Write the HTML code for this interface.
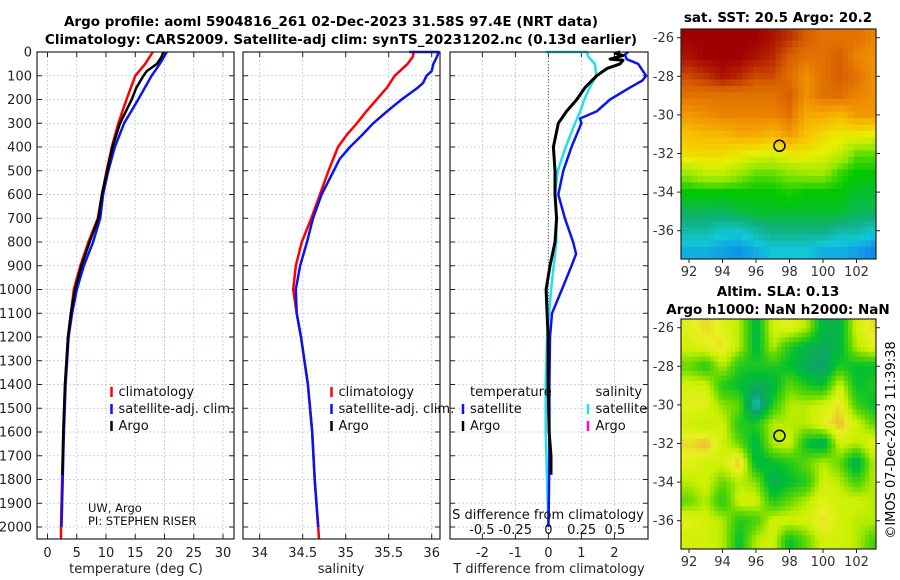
<!DOCTYPE html>
<html><head><meta charset="utf-8"><style>
html,body{margin:0;padding:0;background:#fff;}
svg{display:block;font-family:"DejaVu Sans","Liberation Sans",sans-serif;}
</style></head><body>
<svg id="fig" width="900" height="580" viewBox="0 0 900 580" xmlns="http://www.w3.org/2000/svg">
<g font-weight="bold" font-size="13.5" text-anchor="middle">
<text x="331" y="26">Argo profile: aoml 5904816_261 02-Dec-2023 31.58S 97.4E (NRT data)</text>
<text x="341" y="44">Climatology: CARS2009. Satellite-adj clim: synTS_20231202.nc (0.13d earlier)</text>
</g>
<text x="778" y="22" font-weight="bold" font-size="13.5" text-anchor="middle">sat. SST: 20.5 Argo: 20.2</text>
<text x="778" y="296" font-weight="bold" font-size="13.5" text-anchor="middle">Altim. SLA: 0.13</text>
<text x="778" y="314" font-weight="bold" font-size="13.5" text-anchor="middle">Argo h1000: NaN h2000: NaN</text>
<text transform="translate(895,440) rotate(-90)" font-size="13" text-anchor="middle">©IMOS 07-Dec-2023 11:39:38</text>
</svg>
<script>
// ---------- data ----------
const tempClimDepth=[0,50,100,200,300,400,500,600,700,800,900,1000,1100,1200,1400,1600,1800,2000,2050];
const tempClim=[18.0,16.7,15.0,13.5,12.1,11.0,10.1,9.3,8.6,7.0,5.6,4.5,4.0,3.5,3.0,2.7,2.5,2.3,2.3];
const tempSatDepth=[0,50,100,200,300,400,500,600,700,800,900,1000,1100,1200,1400,1600,1800,2000];
const tempSat=[20.4,19.2,17.8,15.5,13.1,11.5,10.4,9.5,9.0,7.8,6.2,5.0,4.2,3.6,3.1,2.8,2.6,2.4];
const tempArgoDepth=[0,20,50,80,100,150,200,300,400,500,600,700,800,900,1000,1100,1200,1400,1600,1780];
const tempArgo=[19.8,19.5,18.7,17.0,16.4,15.2,14.4,12.4,11.1,10.2,9.3,8.7,7.2,5.8,4.7,4.0,3.5,3.0,2.7,2.55];
const salClimDepth=[0,20,50,100,150,200,250,300,350,400,500,600,700,800,900,1000,1100,1200,1400,1600,1800,2000,2050];
const salClim=[35.79,35.78,35.72,35.57,35.48,35.36,35.24,35.13,35.01,34.91,34.80,34.70,34.60,34.49,34.42,34.39,34.43,34.48,34.56,34.61,34.64,34.68,34.69];
const salSatDepth=[0,0,20,50,80,100,130,150,200,250,300,350,400,450,500,600,700,800,900,1000,1100,1200,1400,1600,1800,2000];
const salSat=[35.74,36.08,36.06,36.02,36.0,35.94,35.9,35.84,35.65,35.48,35.32,35.19,35.05,34.93,34.86,34.72,34.62,34.55,34.47,34.42,34.43,34.48,34.56,34.61,34.64,34.68];
const dSalSatDepth=[0,0,20,50,100,150,200,250,300,400,500,600,700,800,900,1000,1100,1200,1400,1600,1800,2000];
const dSalSat=[-0.02,0.29,0.30,0.35,0.36,0.31,0.27,0.24,0.20,0.13,0.07,0.05,0.06,0.06,0.04,0.02,0.005,-0.01,-0.02,-0.02,-0.01,0];
const dTempSatDepth=[0,10,30,50,100,120,150,200,250,280,300,400,500,600,700,800,850,900,1000,1100,1200,1400,1600,1800,2000];
const dTempSat=[2.42,2.32,2.37,2.72,2.96,2.85,2.47,1.87,1.46,0.96,1.0,0.7,0.45,0.3,0.5,0.75,0.84,0.7,0.41,0.11,0.05,0.03,0.03,0.02,0.0];
const dTempArgoDepth=[0,5,15,30,35,50,70,100,150,200,250,300,400,500,600,700,800,900,1000,1100,1200,1400,1600,1700,1780];
const dTempArgo=[2.17,2.02,2.26,1.87,2.26,2.17,1.77,1.46,1.11,0.86,0.55,0.3,0.15,0.2,0.2,0.25,0.2,0.05,-0.07,-0.04,-0.01,-0.01,0.02,0.08,0.08];
const tempTicks=[0,5,10,15,20,25,30];
const salTicks=[34,34.5,35,35.5,36];
const dTempTicks=[-2,-1,0,1,2];
const dSalTickLabels=["-0.5","-0.25","0","0.25","0.5"];
const dSalTicks=[-0.5,-0.25,0,0.25,0.5];
const lonTicks=[92,94,96,98,100,102];
const latTicks=[-26,-28,-30,-32,-34,-36];
const gridLons=[92,93,94,95,96,97,98,99,100,101,102,103];
const gridLats=[-26,-27,-28,-29,-30,-31,-32,-33,-34,-35,-36,-37];
const sstGrid=[
[.97,.97,.97,.97,.97,.95,.92,.88,.85,.85,.85,.82],
[.95,.97,.97,.97,.95,.93,.88,.85,.85,.88,.82,.80],
[.90,.92,.95,.93,.90,.90,.86,.80,.85,.88,.85,.80],
[.85,.85,.85,.85,.85,.85,.88,.80,.85,.86,.82,.80],
[.78,.80,.82,.82,.82,.82,.85,.75,.75,.72,.78,.78],
[.70,.72,.72,.75,.75,.72,.78,.70,.65,.62,.62,.60],
[.65,.65,.65,.62,.60,.58,.62,.62,.60,.55,.45,.45],
[.50,.55,.55,.50,.45,.45,.48,.50,.50,.42,.38,.38],
[.38,.38,.38,.38,.38,.38,.40,.38,.38,.38,.36,.36],
[.34,.34,.34,.35,.36,.36,.36,.36,.36,.36,.34,.34],
[.30,.30,.28,.28,.30,.32,.32,.32,.32,.30,.30,.28],
[.25,.25,.24,.23,.25,.27,.27,.27,.25,.25,.24,.22]];
const slaGrid=[
[.80,.85,.80,.70,.40,.75,.80,.70,.40,.40,.75,.85],
[.75,.80,.85,.70,.40,.70,.50,.40,.35,.40,.70,.80],
[.60,.50,.70,.50,.50,.50,.45,.35,.30,.50,.45,.45],
[.75,.75,.50,.45,.35,.40,.60,.50,.45,.75,.45,.50],
[.80,.80,.65,.60,.15,.50,.70,.70,.75,.85,.55,.45],
[.75,.70,.75,.50,.50,.70,.70,.70,.80,.90,.75,.60],
[.85,.90,.75,.60,.40,.70,.75,.45,.35,.75,.70,.80],
[.80,.75,.75,.90,.40,.45,.50,.60,.70,.60,.35,.70],
[.70,.75,.60,.70,.65,.35,.45,.50,.75,.70,.55,.70],
[.60,.70,.50,.75,.75,.50,.60,.70,.80,.75,.75,.70],
[.80,.75,.70,.50,.55,.75,.75,.75,.85,.75,.70,.70],
[.75,.75,.70,.45,.70,.75,.45,.60,.75,.75,.70,.55]];
const argoLon=97.4, argoLat=-31.6;

// ---------- helpers ----------
const NS="http://www.w3.org/2000/svg";
const svg=document.getElementById('fig');
function mk(tag,attrs,parent){const e=document.createElementNS(NS,tag);for(const k in attrs)e.setAttribute(k,attrs[k]);(parent||svg).appendChild(e);return e;}
function txt(s,x,y,attrs,parent){const t=mk('text',Object.assign({x:x,y:y,'font-size':13},attrs||{}),parent);t.textContent=s;return t;}
const yD=d=>52+d*0.2375;
const PT=52, PB=539;
const panels=[
 {name:'temperature-panel',x0:37,x1:234},
 {name:'salinity-panel',x0:243,x1:440},
 {name:'difference-panel',x0:450,x1:648}];
const xT=v=>47.5+v*5.85, xS=v=>259.7+(v-34)*86, xdT=v=>548.4+v*33, xdS=v=>548.4+v*133;

function line(depths,vals,xf,color,w,name,parent){
  let d='';depths.forEach((dp,i)=>{d+=(i?'L':'M')+xf(vals[i]).toFixed(1)+','+yD(dp).toFixed(1);});
  const p=mk('path',{d:d,fill:'none',stroke:color,'stroke-width':w,'stroke-linejoin':'round'},parent);
  
  
  return p;
}

panels.forEach((p,pi)=>{
  const g=mk('g',{});
  
  
  const xf=[xT,xS,xdT][pi], ticks=[tempTicks,salTicks,dTempTicks][pi];
  for(let d=0;d<=2000;d+=100){
    mk('line',{x1:p.x0,x2:p.x1,y1:yD(d),y2:yD(d),stroke:'#b8c4ee','stroke-width':0.8,'stroke-dasharray':'2,2'},g);
    mk('line',{x1:p.x0,x2:p.x0+5,y1:yD(d),y2:yD(d),stroke:'#222','stroke-width':1},g);
    mk('line',{x1:p.x1-5,x2:p.x1,y1:yD(d),y2:yD(d),stroke:'#222','stroke-width':1},g);
    if(pi===0){const t=txt(String(d),32,yD(d)+4.5,{'text-anchor':'end',fill:'#222'});}
  }
  ticks.forEach(v=>{
    const x=xf(v);
    mk('line',{x1:x,x2:x,y1:PT,y2:PB,stroke:'#b8c4ee','stroke-width':0.8,'stroke-dasharray':'2,2'},g);
    mk('line',{x1:x,x2:x,y1:PB-5,y2:PB,stroke:'#222','stroke-width':1},g);
    mk('line',{x1:x,x2:x,y1:PT,y2:PT+5,stroke:'#222','stroke-width':1},g);
    const t=txt(String(v),x,557,{'text-anchor':'middle',fill:'#222'},g);
    
    
  });
});
const zl=mk('line',{x1:xdT(0),x2:xdT(0),y1:PT,y2:PB,stroke:'#556b2f','stroke-width':1,'stroke-dasharray':'1,2'});



line(tempClimDepth,tempClim,xT,'#ff0000',2.5,'temperature-climatology-line');
line(tempSatDepth,tempSat,xT,'#0a14ee',2.5,'temperature-satellite-line');
line(tempArgoDepth,tempArgo,xT,'#000',2.5,'temperature-argo-line');
line(salClimDepth,salClim,xS,'#ff0000',2.5,'salinity-climatology-line');
line(salSatDepth,salSat,xS,'#0a14ee',2.5,'salinity-satellite-line');
line(dSalSatDepth,dSalSat,xdS,'#20e0e8',2.5,'salinity-diff-satellite-line');
line(dTempSatDepth,dTempSat,xdT,'#0a14ee',2.5,'temperature-diff-satellite-line');
line(dTempArgoDepth,dTempArgo,xdT,'#000',3,'temperature-diff-argo-line');

panels.forEach(p=>{const r=mk('rect',{x:p.x0,y:PT,width:p.x1-p.x0,height:PB-PT,fill:'none',stroke:'#222','stroke-width':1.2});});

[['temperature (deg C)',136],['salinity',341],['T difference from climatology',549]].forEach(a=>{const t=txt(a[0],a[1],573,{'text-anchor':'middle',fill:'#222'});});
let t=txt('S difference from climatology',548,519,{'text-anchor':'middle',fill:'#111'});


dSalTicks.forEach((v,i)=>{const e=txt(dSalTickLabels[i],xdS(v),534,{'text-anchor':'middle',fill:'#111'});});

function legItem(mx,tx,y,color,label){
  const g=mk('g',{});
  
  
  if(color) mk('line',{x1:mx,x2:mx,y1:y-9,y2:y+1,stroke:color,'stroke-width':2.5},g);
  txt(label,tx,y,{fill:'#111'},g);
}
[[111.5,118.5],[331.5,338.5]].forEach(p=>{
  legItem(p[0],p[1],396,'#ff0000','climatology');
  legItem(p[0],p[1],413,'#0a14ee','satellite-adj. clim.');
  legItem(p[0],p[1],430,'#000','Argo');
});
legItem(0,470,396,null,'temperature');
legItem(463,470,413,'#0a14ee','satellite');
legItem(463,470,430,'#000','Argo');
legItem(0,595.5,396,null,'salinity');
legItem(588,595.5,413,'#20e0e8','satellite');
legItem(588,595.5,430,'#ff00ff','Argo');
t=txt('UW, Argo',88,512,{'font-size':11.5,fill:'#111'});
t=txt('PI: STEPHEN RISER',88,525,{'font-size':11.5,fill:'#111'});

// ---------- maps ----------
function cmap(stops,v){
  if(v<=stops[0][0])return stops[0][1];
  for(let i=1;i<stops.length;i++){if(v<=stops[i][0]){const a=stops[i-1],b=stops[i],f=(v-a[0])/(b[0]-a[0]);
    const ca=a[1].match(/\w\w/g).map(h=>parseInt(h,16)),cb=b[1].match(/\w\w/g).map(h=>parseInt(h,16));
    return 'rgb('+ca.map((c,j)=>Math.round(c+(cb[j]-c)*f)).join(',')+')';}}
  return stops[stops.length-1][1];
}
const sstStops=[[0.2,'#1070f0'],[0.27,'#10c8d8'],[0.32,'#10b080'],[0.38,'#00c800'],[0.48,'#90e800'],[0.6,'#e8f000'],[0.7,'#f8c000'],[0.8,'#f09000'],[0.88,'#d86000'],[0.93,'#b82800'],[0.97,'#a00000']];
const slaStops=[[0.1,'#10d8d0'],[0.3,'#10a070'],[0.45,'#00c030'],[0.6,'#60d800'],[0.72,'#c8f000'],[0.82,'#e8f020'],[0.92,'#f0a830']];
function sample(grid,r,c){
  const nr=grid.length,nc=grid[0].length;
  r=Math.max(0,Math.min(nr-1,r));c=Math.max(0,Math.min(nc-1,c));
  const r0=Math.floor(r),c0=Math.floor(c),r1=Math.min(nr-1,r0+1),c1=Math.min(nc-1,c0+1),fr=r-r0,fc=c-c0;
  const a=grid[r0][c0]*(1-fc)+grid[r0][c1]*fc,b=grid[r1][c0]*(1-fc)+grid[r1][c1]*fc;
  return a*(1-fr)+b*fr;
}
function drawMap(name,top,grid,stops,latRef,sub){
  const L=681,R=876,B=top+230;
  const xm=lon=>689+(lon-92)*16.75, ym=lat=>latRef+(-26-lat)*19.3;
  const g=mk('g',{});
  
  
  const cp=mk('clipPath',{id:name+'-clip'},g);mk('rect',{x:L,y:top,width:R-L,height:B-top},cp);
  const cells=mk('g',{'clip-path':'url(#'+name+'-clip)'},g);
  const w=16.75/sub,h=19.3/sub;
  for(let ri=-0.5;ri<grid.length-0.5;ri+=1/sub){
    for(let ci=-0.5;ci<grid[0].length-0.5;ci+=1/sub){
      const v=sample(grid,ri+0.5/sub,ci+0.5/sub);
      const x=xm(gridLons[0]+ci),y=ym(gridLats[0]-ri);
      const c=mk('rect',{x:x.toFixed(1),y:y.toFixed(1),width:(w+0.5).toFixed(2),height:(h+0.5).toFixed(2),fill:cmap(stops,v)},cells);
      
      
    }
  }
  mk('rect',{x:L,y:top,width:R-L,height:B-top,fill:'none',stroke:'#222','stroke-width':1.2},g);
  lonTicks.forEach(lon=>{const x=xm(lon);mk('line',{x1:x,x2:x,y1:B,y2:B+4,stroke:'#222'},g);
    const e=txt(String(lon),x,B+17,{'text-anchor':'middle',fill:'#333'},g);});
  latTicks.forEach(lat=>{const y=ym(lat);mk('line',{x1:L-4,x2:L,y1:y,y2:y,stroke:'#222'},g);mk('line',{x1:R,x2:R+4,y1:y,y2:y,stroke:'#222'},g);
    const e=txt(String(lat),674,y+4.5,{'text-anchor':'end',fill:'#333'},g);});
  const m=mk('circle',{cx:xm(argoLon),cy:ym(argoLat),r:5.5,fill:'none',stroke:'#000','stroke-width':1.5},g);
  
  
}
drawMap('sst-map',29,sstGrid,sstStops,37.7,3);
drawMap('sla-map',319,slaGrid,slaStops,327.7,4);
</script>
</body></html>
